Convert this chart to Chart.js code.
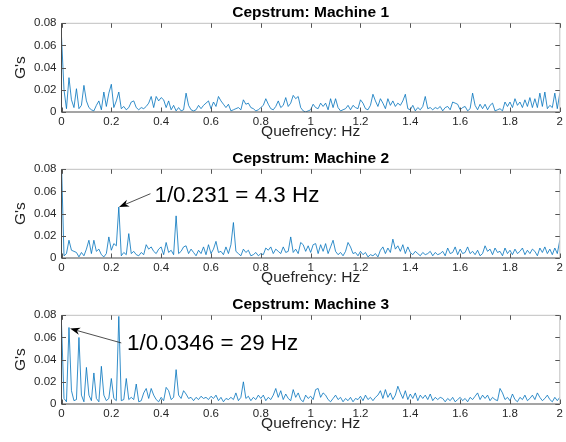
<!DOCTYPE html>
<html>
<head>
<meta charset="utf-8">
<script src="https://cdn.jsdelivr.net/npm/chart.js@4.4.0/dist/chart.umd.min.js"></script>
<style>
  html, body { margin: 0; padding: 0; background: #fff; }
  body { width: 566px; height: 442px; position: relative; overflow: hidden; }
  .panel { position: absolute; left: 0; width: 566px; height: 144px; }
</style>
</head>
<body>
<div class="panel" style="top:1px"><canvas id="c1" width="566" height="144"></canvas></div>
<div class="panel" style="top:147px"><canvas id="c2" width="566" height="144"></canvas></div>
<div class="panel" style="top:293px"><canvas id="c3" width="566" height="144"></canvas></div>
<script>
// cepstrum magnitude (G's), sampled every 0.01 Hz of quefrency, 0 .. 2
const machine1 = [
  0.068, 0.020, 0.003, 0.031, 0.011, 0.004, 0.021, 0.003, 0.006, 0.024,
  0.010, 0.004, 0.002, 0.001, 0.006, 0.010, 0.002, 0.018, 0.005, 0.017,
  0.025, 0.004, 0.010, 0.018, 0.003, 0.005, 0.002, 0.004, 0.009, 0.010,
  0.004, 0.002, 0.004, 0.003, 0.005, 0.008, 0.014, 0.004, 0.014, 0.010,
  0.013, 0.011, 0.004, 0.010, 0.002, 0.006, 0.001, 0.004, 0.001, 0.002,
  0.017, 0.006, 0.002, 0.001, 0.002, 0.006, 0.003, 0.006, 0.008, 0.010,
  0.003, 0.009, 0.005, 0.014, 0.010, 0.007, 0.004, 0.007, 0.001, 0.002,
  0.003, 0.004, 0.002, 0.011, 0.007, 0.008, 0.004, 0.003, 0.001, 0.002,
  0.004, 0.006, 0.012, 0.007, 0.003, 0.002, 0.005, 0.010, 0.004, 0.006,
  0.013, 0.005, 0.008, 0.015, 0.012, 0.014, 0.004, 0.001, 0.000, 0.001,
  0.002, 0.007, 0.004, 0.003, 0.008, 0.005, 0.008, 0.002, 0.012, 0.004,
  0.012, 0.004, 0.001, 0.002, 0.003, 0.006, 0.002, 0.006, 0.004, 0.003,
  0.011, 0.008, 0.003, 0.002, 0.006, 0.016, 0.010, 0.005, 0.012, 0.008,
  0.003, 0.012, 0.006, 0.010, 0.005, 0.008, 0.006, 0.010, 0.016, 0.003,
  0.002, 0.006, 0.001, 0.004, 0.002, 0.005, 0.014, 0.003, 0.004, 0.002,
  0.004, 0.003, 0.005, 0.001, 0.004, 0.005, 0.002, 0.009, 0.008, 0.007,
  0.002, 0.004, 0.005, 0.001, 0.003, 0.017, 0.006, 0.002, 0.007, 0.003,
  0.007, 0.002, 0.006, 0.008, 0.001, 0.002, 0.003, 0.001, 0.009, 0.005,
  0.009, 0.004, 0.012, 0.006, 0.009, 0.004, 0.011, 0.005, 0.013, 0.004,
  0.012, 0.004, 0.017, 0.005, 0.018, 0.003, 0.006, 0.004, 0.017, 0.003,
  0.017
];
const machine2 = [
  0.085, 0.002, 0.004, 0.016, 0.007, 0.006, 0.005, 0.001, 0.005, 0.002,
  0.008, 0.016, 0.004, 0.016, 0.006, 0.008, 0.003, 0.001, 0.004, 0.019,
  0.007, 0.013, 0.011, 0.046, 0.002, 0.005, 0.003, 0.022, 0.004, 0.006,
  0.003, 0.002, 0.005, 0.003, 0.012, 0.008, 0.010, 0.006, 0.004, 0.008,
  0.010, 0.003, 0.014, 0.005, 0.007, 0.003, 0.038, 0.004, 0.006, 0.010,
  0.011, 0.004, 0.008, 0.005, 0.002, 0.007, 0.004, 0.010, 0.003, 0.012,
  0.004, 0.008, 0.015, 0.005, 0.006, 0.003, 0.010, 0.004, 0.012, 0.032,
  0.006, 0.004, 0.002, 0.008, 0.005, 0.007, 0.002, 0.003, 0.005, 0.002,
  0.004, 0.003, 0.009, 0.007, 0.010, 0.004, 0.008, 0.006, 0.004, 0.010,
  0.005, 0.006, 0.019, 0.005, 0.008, 0.004, 0.014, 0.012, 0.006, 0.011,
  0.005, 0.012, 0.013, 0.004, 0.012, 0.006, 0.013, 0.004, 0.010, 0.016,
  0.006, 0.003, 0.005, 0.002, 0.006, 0.014, 0.010, 0.004, 0.005, 0.002,
  0.006, 0.003, 0.005, 0.001, 0.003, 0.002, 0.004, 0.001, 0.007, 0.010,
  0.004, 0.009, 0.005, 0.017, 0.008, 0.011, 0.006, 0.012, 0.004, 0.010,
  0.005, 0.003, 0.006, 0.004, 0.002, 0.005, 0.003, 0.004, 0.006, 0.002,
  0.005, 0.003, 0.004, 0.006, 0.002, 0.009, 0.004, 0.005, 0.010, 0.003,
  0.008, 0.004, 0.005, 0.010, 0.004, 0.006, 0.003, 0.007, 0.002, 0.004,
  0.011, 0.006, 0.008, 0.003, 0.009, 0.005, 0.006, 0.002, 0.009, 0.004,
  0.007, 0.003, 0.008, 0.004, 0.006, 0.009, 0.003, 0.007, 0.004, 0.008,
  0.006, 0.002, 0.009, 0.005, 0.010, 0.004, 0.008, 0.003, 0.009, 0.004,
  0.016
];
const machine3 = [
  0.072, 0.005, 0.002, 0.069, 0.012, 0.003, 0.004, 0.060, 0.008, 0.002,
  0.033, 0.008, 0.003, 0.028, 0.005, 0.002, 0.034, 0.008, 0.003, 0.005,
  0.023, 0.005, 0.003, 0.079, 0.003, 0.004, 0.023, 0.004, 0.006, 0.004,
  0.018, 0.002, 0.003, 0.010, 0.014, 0.005, 0.014, 0.008, 0.004, 0.002,
  0.006, 0.003, 0.015, 0.012, 0.004, 0.006, 0.031, 0.008, 0.005, 0.012,
  0.009, 0.005, 0.006, 0.003, 0.006, 0.004, 0.007, 0.005, 0.006, 0.004,
  0.007, 0.005, 0.008, 0.003, 0.006, 0.002, 0.005, 0.004, 0.006, 0.004,
  0.010, 0.003, 0.006, 0.020, 0.005, 0.007, 0.003, 0.006, 0.004, 0.008,
  0.005, 0.008, 0.003, 0.006, 0.004, 0.008, 0.014, 0.006, 0.012, 0.004,
  0.009, 0.005, 0.003, 0.013, 0.006, 0.010, 0.004, 0.002, 0.008, 0.005,
  0.007, 0.004, 0.013, 0.014, 0.006, 0.010, 0.008, 0.004, 0.002, 0.005,
  0.008, 0.004, 0.006, 0.002, 0.005, 0.003, 0.006, 0.002, 0.005, 0.004,
  0.007, 0.003, 0.008, 0.004, 0.006, 0.003, 0.006, 0.008, 0.012, 0.005,
  0.013, 0.006, 0.010, 0.004, 0.008, 0.016, 0.010, 0.005, 0.012, 0.004,
  0.009, 0.005, 0.010, 0.003, 0.008, 0.005, 0.008, 0.004, 0.009, 0.003,
  0.006, 0.004, 0.006, 0.005, 0.002, 0.005, 0.003, 0.006, 0.002, 0.004,
  0.006, 0.003, 0.005, 0.002, 0.006, 0.004, 0.007, 0.010, 0.004, 0.008,
  0.005, 0.008, 0.003, 0.006, 0.004, 0.003, 0.014, 0.010, 0.004, 0.006,
  0.003, 0.009, 0.004, 0.002, 0.006, 0.004, 0.008, 0.003, 0.005, 0.008,
  0.004, 0.010, 0.006, 0.003, 0.005, 0.008, 0.004, 0.002, 0.006, 0.003,
  0.006
];
const titles = ['Cepstrum: Machine 1', 'Cepstrum: Machine 2', 'Cepstrum: Machine 3'];
const step = 0.01;
const quefrency = machine1.map((_, i) => +(i * step).toFixed(2));

// callouts, in data units of the panel they sit in
const callouts = [
  [],
  [{text: '1/0.231 = 4.3 Hz', textX: 0.373, textY: 0.0565, tailX: 0.357, tailY: 0.058, tipX: 0.231, tipY: 0.046}],
  [{text: '1/0.0346 = 29 Hz', textX: 0.263, textY: 0.0545, tailX: 0.240, tailY: 0.0551, tipX: 0.0346, tipY: 0.068}]
];

Chart.defaults.font.family = '"Liberation Sans", Arial, Helvetica, sans-serif';
Chart.defaults.color = '#262626';

// matlab style box with inward ticks, plus arrow callouts
const frame = {
  id: 'frame',
  afterDatasetsDraw(chart, args, opts) {
    const {ctx, chartArea: a, scales: {x, y}} = chart;
    ctx.save();
    ctx.lineWidth = 1;
    ctx.strokeStyle = '#c0c0c0';
    ctx.beginPath();
    ctx.moveTo(a.left, a.top); ctx.lineTo(a.right, a.top); ctx.lineTo(a.right, a.bottom);
    ctx.stroke();
    ctx.strokeStyle = '#4a4a4a';
    ctx.beginPath();
    ctx.moveTo(a.left, a.top); ctx.lineTo(a.left, a.bottom); ctx.lineTo(a.right, a.bottom);
    ctx.stroke();
    const tl = 4.5;
    ctx.strokeStyle = '#555';
    ctx.beginPath();
    x.ticks.forEach(t => {
      const px = Math.round(x.getPixelForValue(t.value)) + 0.5;
      ctx.moveTo(px, a.bottom); ctx.lineTo(px, a.bottom - tl);
      ctx.moveTo(px, a.top); ctx.lineTo(px, a.top + tl);
    });
    y.ticks.forEach(t => {
      const py = Math.round(y.getPixelForValue(t.value)) + 0.5;
      ctx.moveTo(a.left, py); ctx.lineTo(a.left + tl, py);
      ctx.moveTo(a.right, py); ctx.lineTo(a.right - tl, py);
    });
    ctx.stroke();

    (opts.items || []).forEach(c => {
      const px = x.getPixelForValue(c.tipX), py = y.getPixelForValue(c.tipY);
      const tx = x.getPixelForValue(c.tailX), ty = y.getPixelForValue(c.tailY);
      const ang = Math.atan2(py - ty, px - tx);
      const L = 10, W = 3.6;
      ctx.strokeStyle = '#222';
      ctx.lineWidth = 0.8;
      ctx.beginPath();
      ctx.moveTo(tx, ty);
      ctx.lineTo(px - Math.cos(ang) * L * 0.7, py - Math.sin(ang) * L * 0.7);
      ctx.stroke();
      ctx.save();
      ctx.translate(px, py);
      ctx.rotate(ang);
      ctx.fillStyle = '#000';
      ctx.beginPath();
      ctx.moveTo(0, 0); ctx.lineTo(-L, -W); ctx.lineTo(-L * 0.7, 0); ctx.lineTo(-L, W);
      ctx.closePath();
      ctx.fill();
      ctx.restore();
      ctx.fillStyle = '#000';
      ctx.font = '22.4px "Liberation Sans", Arial, sans-serif';
      ctx.textAlign = 'left';
      ctx.textBaseline = 'middle';
      ctx.fillText(c.text, x.getPixelForValue(c.textX), y.getPixelForValue(c.textY));
    });
    ctx.restore();
  }
};

function makePanel(id, values, title, items) {
  new Chart(document.getElementById(id), {
    type: 'line',
    data: {
      datasets: [{
        data: quefrency.map((q, i) => ({x: q, y: values[i]})),
        borderColor: '#0072BD',
        borderWidth: 0.8,
        pointRadius: 0,
        tension: 0,
        fill: false
      }]
    },
    options: {
      responsive: false,
      animation: false,
      events: [],
      layout: {padding: {top: 0, right: 3.5, bottom: 0, left: 0}},
      plugins: {
        legend: {display: false},
        tooltip: {enabled: false},
        title: {
          display: true,
          text: title,
          fullSize: false,
          color: '#000',
          font: {size: 15.5, weight: 'bold', lineHeight: 1.2},
          padding: {top: 2.5, bottom: 1.2}
        },
        frame: {items: items}
      },
      scales: {
        x: {
          type: 'linear',
          min: 0,
          max: 2,
          grid: {display: false, drawTicks: false},
          border: {display: false},
          ticks: {
            stepSize: 0.2,
            padding: 3,
            maxRotation: 0,
            font: {size: 11.5},
            callback: v => String(Math.round(v * 10) / 10)
          },
          title: {
            display: true,
            text: 'Quefrency: Hz',
            font: {size: 15.5, lineHeight: 1.2},
            padding: {top: 0, bottom: 4.2}
          },
          afterFit(s) { s.height = 33; }
        },
        y: {
          min: 0,
          max: 0.08,
          grid: {display: false, drawTicks: false},
          border: {display: false},
          ticks: {
            stepSize: 0.02,
            padding: 5,
            font: {size: 11.5},
            callback: v => String(Math.round(v * 100) / 100)
          },
          title: {
            display: true,
            text: "G's",
            font: {size: 15.5, lineHeight: 1.2},
            padding: {top: 11.5, bottom: 0}
          },
          afterFit(s) { s.width = 61.5; }
        }
      }
    },
    plugins: [frame]
  });
}

makePanel('c1', machine1, titles[0], callouts[0]);
makePanel('c2', machine2, titles[1], callouts[1]);
makePanel('c3', machine3, titles[2], callouts[2]);
</script>
</body>
</html>
